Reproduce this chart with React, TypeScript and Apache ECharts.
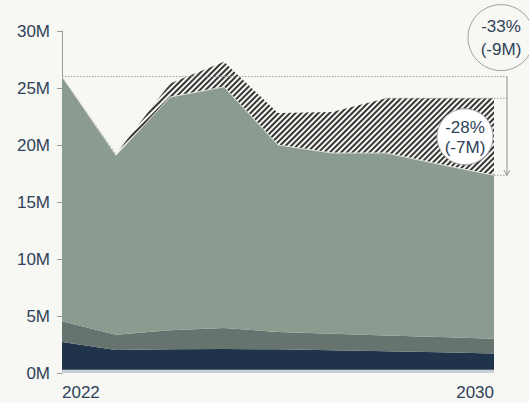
import React, { useEffect, useRef } from "react";
import * as echarts from "echarts";

const years = ["2022", "2023", "2024", "2025", "2026", "2027", "2028", "2029", "2030"];
// stacked layers, in millions
const baseLayer = [0.28, 0.28, 0.28, 0.28, 0.28, 0.28, 0.28, 0.28, 0.28];
const darkLayer = [2.44, 1.74, 1.8, 1.82, 1.8, 1.72, 1.62, 1.54, 1.42];
const midLayer = [1.83, 1.33, 1.67, 1.85, 1.52, 1.45, 1.4, 1.33, 1.3];
const mainLayer = [21.45, 15.75, 20.45, 21.15, 16.4, 15.85, 16.0, 15.15, 14.35];
const gapLayer = [0, 0.1, 1.2, 2.2, 2.8, 3.6, 4.8, 5.8, 6.75];
const totalChangeLabel = ["-33%", "(-9M)"];
const gapChangeLabel = ["-28%", "(-7M)"];

const BG = "#f7f7f3";
const TEXT = "#2f4259";
const FONT = "Liberation Sans, Arial, sans-serif";
const FS = 17;

export default function App() {
  const ref = useRef<HTMLDivElement>(null);
  useEffect(() => {
    const chart = echarts.init(ref.current!, null, { renderer: "svg" });
    const mk = (name: string, data: number[], color: string, z = 2, line: any = { width: 0 }) => ({
      name,
      type: "line",
      stack: "total",
      data,
      symbol: "none",
      showSymbol: false,
      lineStyle: line,
      areaStyle: { color, opacity: 1 },
      z,
    });
    const decal = {
      symbol: "rect",
      symbolSize: 1,
      color: "#363636",
      backgroundColor: BG,
      dashArrayX: [1, 0],
      dashArrayY: [1.1, 1.9],
      rotation: -Math.PI / 4,
    };
    chart.setOption({
      animation: false,
      backgroundColor: BG,
      grid: { left: 62, right: 35, top: 31, bottom: 30, containLabel: false, outerBoundsMode: "none" },
      xAxis: {
        type: "category",
        data: years,
        boundaryGap: false,
        axisLine: { show: false },
        axisTick: { show: false },
        axisLabel: {
          interval: (i: number) => i === 0 || i === years.length - 1,
          alignMinLabel: "left",
          alignMaxLabel: "right",
          color: TEXT,
          fontFamily: FONT,
          fontSize: FS,
          margin: 11,
        },
        splitLine: { show: false },
      },
      yAxis: {
        type: "value",
        min: 0,
        max: 30,
        interval: 5,
        axisLine: { show: true, lineStyle: { color: "#9a9a9a", width: 1 } },
        axisTick: { show: true, length: 5, lineStyle: { color: "#9a9a9a" } },
        axisLabel: { formatter: (v: number) => `${v}M`, color: TEXT, fontFamily: FONT, fontSize: FS, margin: 12 },
        splitLine: { show: false },
      },
      series: [
        mk("base", baseLayer, "#c8d0d5"),
        mk("dark", darkLayer, "#1f344a"),
        mk("mid", midLayer, "#66736f"),
        mk("main", mainLayer, "#8c9b90", 3, { width: 1, color: "#dde1dc" }),
        {
          ...mk("gap", gapLayer, BG, 2),
          lineStyle: { width: 0, decal },
          itemStyle: { decal },
        },
      ],
    });

    const n = years.length;
    const totals = years.map((_, i) => baseLayer[i] + darkLayer[i] + midLayer[i] + mainLayer[i]);
    const uppers = totals.map((t, i) => t + gapLayer[i]);
    const px = (i: number, v: number) => chart.convertToPixel({ xAxisIndex: 0, yAxisIndex: 0 }, [i, v]) as number[];
    const [x0, yStart] = px(0, totals[0]);
    const [xEnd, yEnd] = px(n - 1, totals[n - 1]);
    const [, yUpEnd] = px(n - 1, uppers[n - 1]);
    const [xFlat] = px(n - 3, uppers[n - 3]);
    const xArrow = xEnd + 13;
    const dotted = { stroke: "#9a9a9a", lineWidth: 1, lineDash: [1.5, 1.5] };
    const gray = "#8f8f8f";
    const cy2 = (yUpEnd + yEnd) / 2;
    const txt = (x: number, y: number, text: string) => ({
      type: "text",
      x,
      y,
      style: { text, fill: TEXT, font: `${FS}px ${FONT}`, textAlign: "center", textVerticalAlign: "middle" },
      z: 12,
    });
    chart.setOption({
      graphic: [
        { type: "line", shape: { x1: x0, y1: yStart, x2: xArrow, y2: yStart }, style: dotted, z: 10 },
        { type: "line", shape: { x1: xFlat, y1: yUpEnd, x2: xArrow, y2: yUpEnd }, style: dotted, z: 10 },
        { type: "line", shape: { x1: xEnd, y1: yEnd, x2: xArrow, y2: yEnd }, style: dotted, z: 10 },
        { type: "line", shape: { x1: xArrow, y1: yStart, x2: xArrow, y2: yEnd }, style: { stroke: gray, lineWidth: 1 }, z: 10 },
        {
          type: "polyline",
          shape: { points: [[xArrow - 3, yEnd - 5], [xArrow, yEnd], [xArrow + 3, yEnd - 5]] },
          style: { stroke: gray, lineWidth: 1, fill: null },
          z: 10,
        },
        { type: "circle", shape: { cx: xEnd - 29, cy: cy2, r: 28 }, style: { fill: "#ffffff", stroke: "#a0a0a0", lineWidth: 1 }, z: 11 },
        txt(xEnd - 29, cy2 - 9, gapChangeLabel[0]),
        txt(xEnd - 29, cy2 + 11, gapChangeLabel[1]),
        { type: "circle", shape: { cx: xArrow - 6, cy: yStart - 39, r: 33 }, style: { fill: BG, stroke: "#a0a0a0", lineWidth: 1 }, z: 11 },
        txt(xArrow - 6, yStart - 50, totalChangeLabel[0]),
        txt(xArrow - 6, yStart - 27, totalChangeLabel[1]),
      ],
    });
    return () => chart.dispose();
  }, []);
  return <div ref={ref} style={{ position: "fixed", left: 0, top: 0, width: 529, height: 403, background: BG }} />;
}
